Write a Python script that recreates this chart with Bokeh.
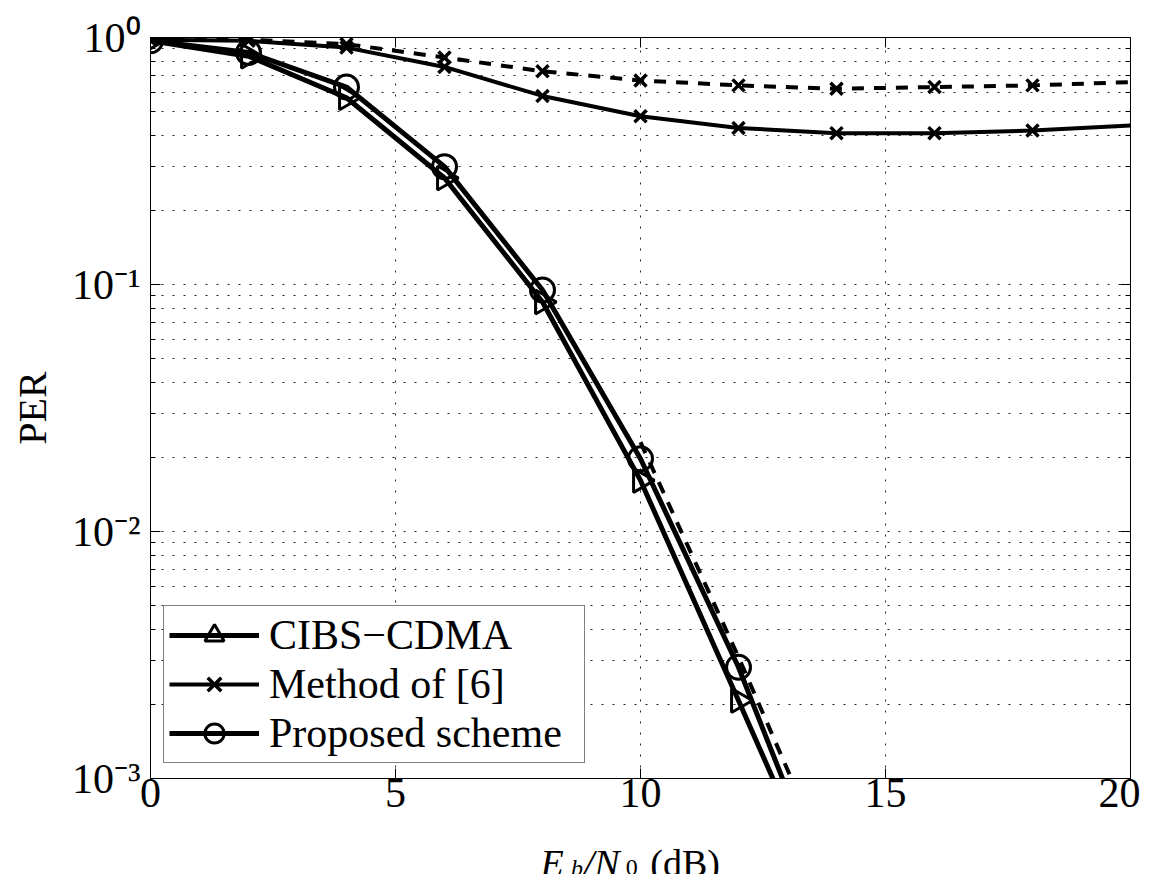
import math
from bokeh.plotting import figure
from bokeh.layouts import column
from bokeh.models import (Range1d, FixedTicker, LinearAxis, LogAxis, Legend,
                          LegendItem, CustomJSTickFormatter)
from bokeh.core.properties import value
from bokeh.embed import file_html
from bokeh.resources import INLINE

# ---------------- data ----------------
snr = [0, 2, 4, 6, 8, 10, 12, 14, 16, 18, 20]
cibs_snr = [0, 2, 4, 6, 8, 10, 12, 14]
cibs_per = [0.97, 0.84, 0.57, 0.27, 0.085, 0.0161, 0.00207, 0.00026]
proposed_snr = [0, 2, 4, 6, 8, 10, 12, 14]
proposed_per = [0.97, 0.87, 0.63, 0.30, 0.095, 0.0197, 0.00282, 0.00028]
method_per = [0.98, 0.97, 0.91, 0.76, 0.58, 0.48, 0.43, 0.41, 0.41, 0.42, 0.44]
method_dashed_per = [0.98, 0.98, 0.94, 0.83, 0.73, 0.67, 0.64, 0.62, 0.63, 0.64, 0.66]
tail_snr = [10, 12, 14]
tail_per = [0.023, 0.0031, 0.00038]

x_ticks = [0, 5, 10, 15, 20]
y_ticks = [0.001, 0.01, 0.1, 1.0]
y_tick_labels = ["10\u207b\u00b3", "10\u207b\u00b2", "10\u207b\u00b9", "10\u2070"]
legend_labels = ["CIBS\u2212CDMA", "Method of [6]", "Proposed scheme"]
x_label_parts = ["E", "b", "/N", "0", "(dB)"]
y_label = "PER"

FONT = "Liberation Serif"
y_minor = [k * 10.0 ** e for e in (-3, -2, -1) for k in range(2, 10)]


def marker_pts(xs, ys, xmax=18, ymin=1e-3):
    pts = [(a, b) for a, b in zip(xs, ys) if a <= xmax and b >= ymin]
    return [a for a, _ in pts], [b for _, b in pts]


empty = CustomJSTickFormatter(code="return ''")

p = figure(frame_width=980, frame_height=741,
           x_range=Range1d(0, 20), y_range=Range1d(1e-3, 1.0),
           y_axis_type="log", output_backend="svg", toolbar_location=None,
           min_border_left=150, min_border_right=10,
           min_border_top=37, min_border_bottom=50,
           background_fill_color="white", border_fill_color="white")

p.outline_line_color = "black"
p.outline_line_width = 1
p.outline_line_alpha = 1

# axes
p.xaxis.ticker = FixedTicker(ticks=x_ticks)
p.yaxis.ticker = FixedTicker(ticks=y_ticks, minor_ticks=y_minor)
p.yaxis.major_label_overrides = {t: s for t, s in zip(y_ticks, y_tick_labels)}
for ax in (p.xaxis[0], p.yaxis[0]):
    ax.major_label_text_font = FONT
    ax.major_label_text_font_size = "42px"
    ax.major_label_text_color = "black"
    ax.axis_line_color = "black"
    ax.major_tick_line_color = "black"
    ax.minor_tick_line_color = "black"
    ax.major_tick_in = 10
    ax.major_tick_out = 0
    ax.minor_tick_out = 0
p.xaxis.minor_tick_in = 0
p.yaxis.minor_tick_in = 5
p.xaxis.major_label_standoff = 0
p.yaxis.major_label_standoff = 10
p.yaxis.axis_label = y_label
p.yaxis.axis_label_text_font = FONT
p.yaxis.axis_label_text_font_size = "40px"
p.yaxis.axis_label_text_font_style = "normal"
p.yaxis.axis_label_text_color = "black"
p.yaxis.axis_label_standoff = 14

top = LinearAxis(ticker=FixedTicker(ticks=x_ticks), formatter=empty,
                 major_label_text_color=None, major_label_text_font_size="1px",
                 major_tick_in=10, major_tick_out=0, minor_tick_in=0, minor_tick_out=0,
                 axis_line_color="black", major_tick_line_color="black")
right = LogAxis(ticker=FixedTicker(ticks=y_ticks, minor_ticks=y_minor), formatter=empty,
                major_label_text_color=None, major_label_text_font_size="1px",
                major_tick_in=10, major_tick_out=0, minor_tick_in=5, minor_tick_out=0,
                axis_line_color="black", major_tick_line_color="black",
                minor_tick_line_color="black")
p.add_layout(top, "above")
p.add_layout(right, "right")

# grid
for g in (p.xgrid[0], p.ygrid[0]):
    g.grid_line_color = "#222222"
    g.grid_line_dash = "2 9"
    g.grid_line_width = 1
p.ygrid.minor_grid_line_color = "#222222"
p.ygrid.minor_grid_line_dash = "2 9"
p.ygrid.minor_grid_line_width = 1

# series
l_mdash = p.line(snr, method_dashed_per, line_color="black", line_width=4,
                 line_dash="12 10")
mx, my = marker_pts(snr, method_dashed_per)
s_mdash = p.scatter(mx, my, marker="x", size=17, line_color="black", line_width=3.5)

l_method = p.line(snr, method_per, line_color="black", line_width=4, line_join="round")
mx, my = marker_pts(snr, method_per)
s_method = p.scatter(mx, my, marker="x", size=17, line_color="black", line_width=3.5)

l_tail = p.line(tail_snr, tail_per, line_color="black", line_width=4, line_dash="12 10")

l_cibs = p.line(cibs_snr, cibs_per, line_color="black", line_width=5, line_join="round")
mx, my = marker_pts(cibs_snr, cibs_per)
s_cibs = p.scatter(mx, my, marker="triangle", angle=-math.pi / 2, size=24,
                   line_color="black", line_width=3, fill_color=None)

l_prop = p.line(proposed_snr, proposed_per, line_color="black", line_width=5, line_join="round")
mx, my = marker_pts(proposed_snr, proposed_per)
s_prop = p.scatter(mx, my, marker="circle", size=24, line_color="black",
                   line_width=3, fill_color=None)

legend = Legend(items=[
    LegendItem(label=legend_labels[0], renderers=[l_cibs, s_cibs]),
    LegendItem(label=legend_labels[1], renderers=[l_method, s_method]),
    LegendItem(label=legend_labels[2], renderers=[l_prop, s_prop]),
], location=(13, 15))
legend.label_text_font = FONT
legend.label_text_font_size = "42px"
legend.label_text_color = "black"
legend.glyph_width = 90
legend.glyph_height = 48
legend.label_height = 48
legend.label_width = 310
legend.spacing = 1
legend.padding = 5
legend.margin = 0
legend.label_standoff = 10
legend.border_line_color = "black"
legend.border_line_width = 1
legend.background_fill_color = "white"
legend.background_fill_alpha = 1
p.add_layout(legend)

# strip below the plot holding the x-axis title  E_b/N_0 (dB)
q = figure(frame_width=980, frame_height=46, x_range=p.x_range, y_range=Range1d(0, 46),
           x_axis_location=None, y_axis_location=None,
           output_backend="svg", toolbar_location=None,
           min_border_left=150, min_border_right=10, min_border_top=0, min_border_bottom=0,
           background_fill_color="white", border_fill_color="white")
q.grid.visible = False
q.outline_line_color = None

x_label_pos = [(7.96, 12, "italic", "38px"),
               (8.58, 7, "italic", "24px"),
               (8.84, 12, "italic", "38px"),
               (9.70, 7, "normal", "24px"),
               (10.20, 12, "normal", "38px")]
for txt, (xx, yy, style, size) in zip(x_label_parts, x_label_pos):
    q.text(x=[xx], y=[yy], text=[txt], text_font=value(FONT), text_font_size=size,
           text_font_style=style, text_color="black", text_baseline="alphabetic",
           text_align="left")

layout = column(p, q, spacing=0)
open("out.html", "w").write(file_html(layout, INLINE))
